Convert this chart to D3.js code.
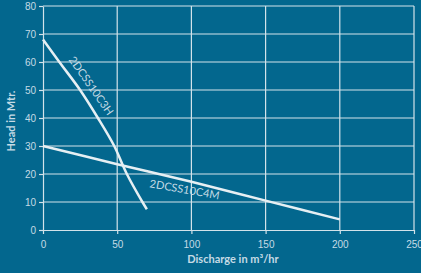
<!DOCTYPE html>
<html>
<head>
<meta charset="utf-8">
<script src="https://cdn.jsdelivr.net/npm/d3@7"></script>
<style>
  body { margin: 0; background: #03678e; }
  svg { display: block; font-family: Lato, "Open Sans", sans-serif; }
</style>
</head>
<body>
<div id="chart"></div>
<script>
// pump curves
var c3hFlow = [0, 11, 25, 37, 48, 56.5, 67, 70];
var c3hHead = [68, 60, 50, 40, 30, 20, 10, 7.4];
var c4mFlow = [0, 50, 100, 150, 200];
var c4mHead = [30, 23.5, 17.2, 10.5, 3.8];
var xTicks = [0, 50, 100, 150, 200, 250];
var yTicks = [0, 10, 20, 30, 40, 50, 60, 70, 80];

var margin = { top: 6, right: 7, bottom: 43, left: 43 };
var width = 421, height = 273;
var plotW = width - margin.left - margin.right;
var plotH = height - margin.top - margin.bottom;

var gridCol = "#d3e3ea", textCol = "#c5dbe5";

var svg = d3.select("#chart").append("svg")
  .attr("width", width)
  .attr("height", height);

var g = svg.append("g")
  .attr("transform", "translate(" + margin.left + "," + margin.top + ")");

var xScale = d3.scaleLinear().domain([0, 250]).range([0, plotW]);
var yScale = d3.scaleLinear().domain([0, 80]).range([plotH, 0]);

// grid
g.selectAll(".vgrid").data(xTicks.slice(1)).enter().append("line")
  .attr("x1", d => xScale(d)).attr("x2", d => xScale(d))
  .attr("y1", 0).attr("y2", plotH)
  .attr("stroke", gridCol).attr("stroke-width", 1.2);
g.selectAll(".hgrid").data(yTicks.slice(1)).enter().append("line")
  .attr("x1", 0).attr("x2", plotW)
  .attr("y1", d => yScale(d)).attr("y2", d => yScale(d))
  .attr("stroke", gridCol).attr("stroke-width", 1.2);

var xAxis = d3.axisBottom(xScale).tickValues(xTicks).tickSize(4).tickSizeOuter(0);
var yAxis = d3.axisLeft(yScale).tickValues(yTicks).tickSize(4).tickSizeOuter(0);

var xAxisG = g.append("g").attr("transform", "translate(0," + plotH + ")").call(xAxis);
var yAxisG = g.append("g").call(yAxis);

[xAxisG, yAxisG].forEach(function (a) {
  a.selectAll("path, line").attr("stroke", gridCol).attr("stroke-width", 1.2);
  a.selectAll("text").attr("fill", textCol).style("font-size", "10px");
});
xAxisG.selectAll("text").attr("dy", "1.1em");

// curves
var line = d3.line()
  .x(d => xScale(d[0]))
  .y(d => yScale(d[1]))
  .curve(d3.curveCatmullRom);

g.append("path")
  .datum(c3hFlow.map((f, i) => [f, c3hHead[i]]))
  .attr("d", line)
  .attr("fill", "none").attr("stroke", "#e6eff3").attr("stroke-width", 2.5);

g.append("path")
  .datum(c4mFlow.map((f, i) => [f, c4mHead[i]]))
  .attr("d", line)
  .attr("fill", "none").attr("stroke", "#e6eff3").attr("stroke-width", 2.5);

// curve labels
g.append("text")
  .attr("transform", "translate(" + (xScale(17)) + "," + (yScale(60.8)) + ") rotate(55)")
  .attr("fill", textCol).style("font-size", "11px")
  .text("2DCSS10C3H");

g.append("text")
  .attr("transform", "translate(" + (xScale(71.5)) + "," + (yScale(15.3)) + ") rotate(10)")
  .attr("fill", textCol).style("font-size", "11px")
  .text("2DCSS10C4M");

// axis titles
svg.append("text")
  .attr("x", margin.left + xScale(128)).attr("y", 263)
  .attr("text-anchor", "middle")
  .attr("fill", textCol).style("font-size", "11px").style("font-weight", "bold")
  .text("Discharge in m³/hr");

svg.append("text")
  .attr("transform", "translate(15," + 121 + ") rotate(-90)")
  .attr("text-anchor", "middle")
  .attr("fill", textCol).style("font-size", "11px").style("font-weight", "bold")
  .text("Head in Mtr.");
</script>
</body>
</html>
